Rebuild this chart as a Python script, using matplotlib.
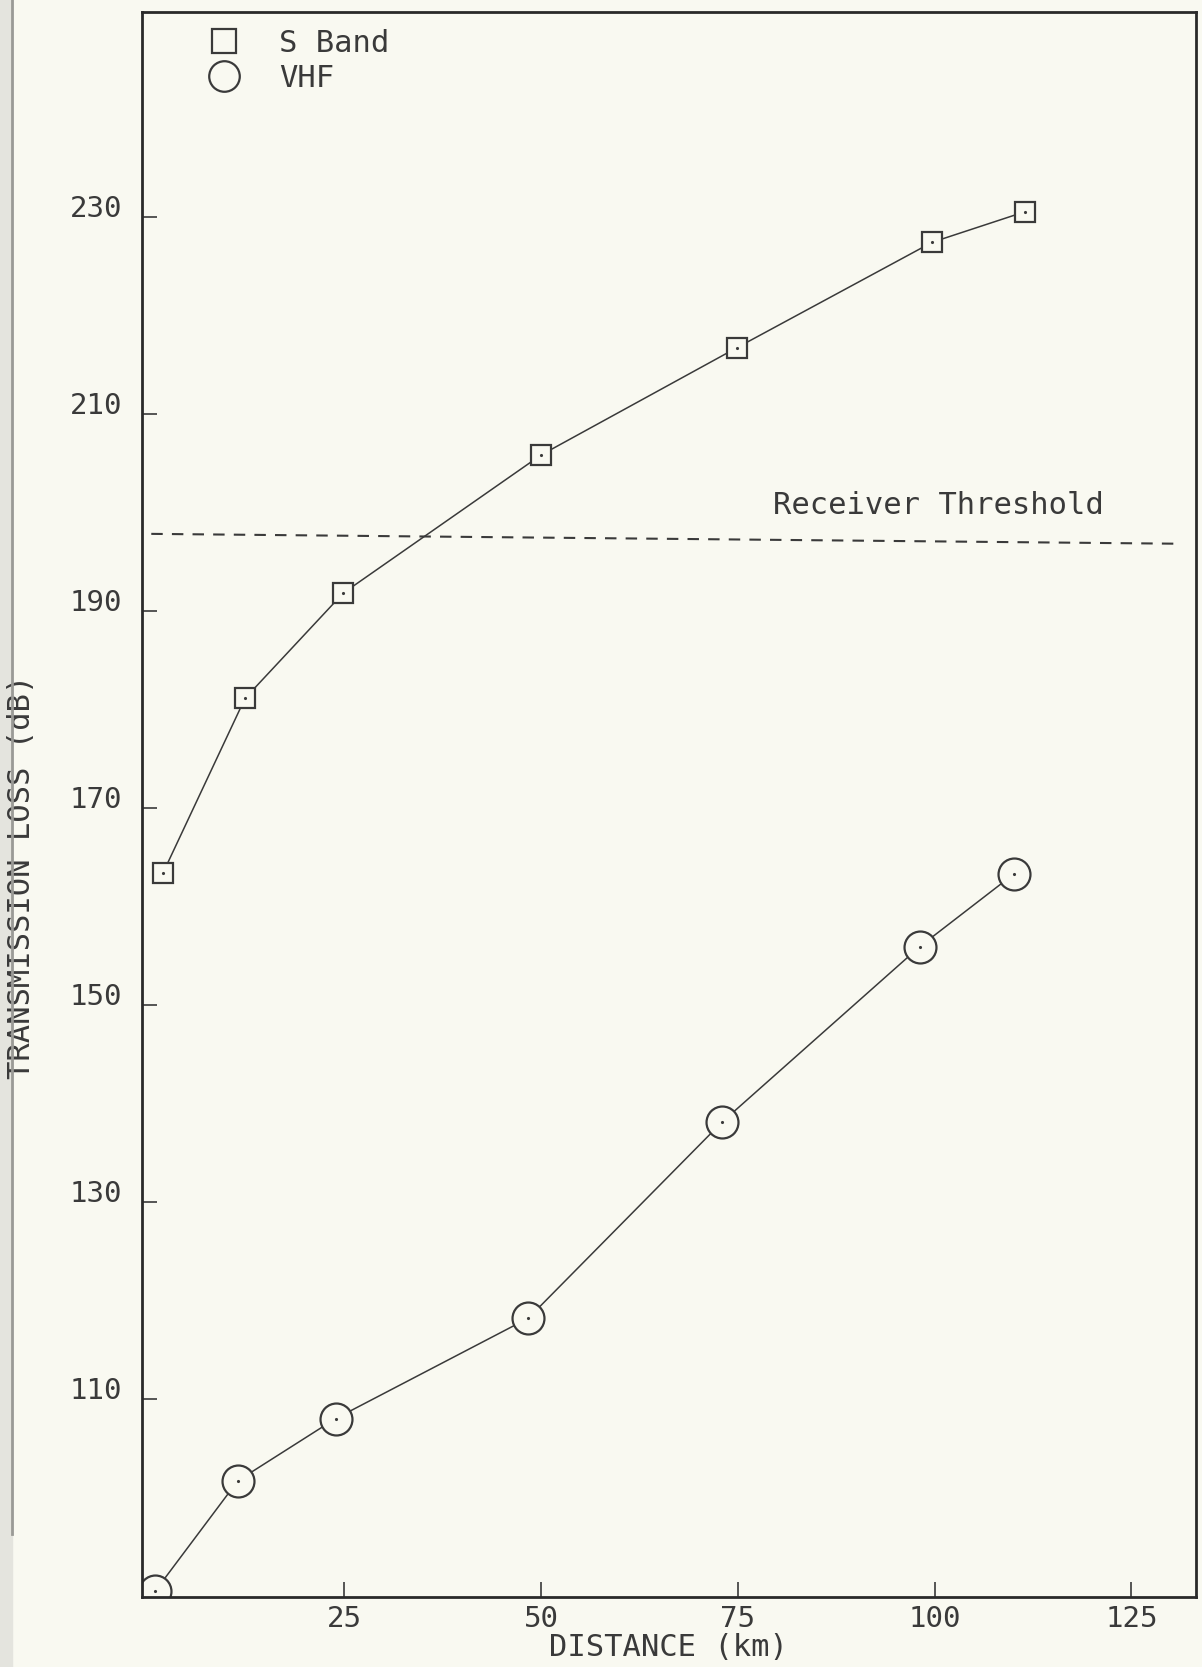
import numpy as np
import matplotlib
matplotlib.use("Agg")
from matplotlib import pyplot as plt

# data
sband_x = [2.0, 12.4, 24.9, 50.0, 74.9, 99.7, 111.5]
sband_y = [163.4, 181.1, 191.8, 205.8, 216.7, 227.4, 230.5]
vhf_x = [1.0, 11.5, 23.9, 48.4, 73.0, 98.1, 110.1]
vhf_y = [90.5, 101.7, 108.0, 118.2, 138.1, 155.9, 163.3]
thresh_x = [0.5, 131.0]
thresh_y = [197.8, 196.8]
xticks = [25, 50, 75, 100, 125]
yticks = [110, 130, 150, 170, 190, 210, 230]

bg = '#f9f9f1'
ink = '#3a3a3a'
plt.rcParams['font.family'] = ['DejaVu Sans Mono', 'DejaVu Sans']

fig = plt.figure(figsize=(12.02, 16.67), dpi=100, facecolor=bg)
ax = fig.add_axes([0.118, 0.042, 0.877, 0.951], facecolor=bg)

# page edge on the left
fig.add_artist(plt.Line2D([0.010, 0.010], [0.08, 1.0], color='#9a9a96', lw=2))
fig.patches.append(plt.Rectangle((0, 0), 0.010, 1, transform=fig.transFigure,
                                 color='#e4e4de', zorder=-1))

ax.plot(thresh_x, thresh_y, color=ink, lw=1.5, dashes=(5.5, 4.4))
ax.plot(sband_x, sband_y, color=ink, lw=1.1, marker='s', ms=15,
        mfc=bg, mec=ink, mew=1.6, label='S Band')
ax.plot(vhf_x, vhf_y, color=ink, lw=1.1, marker='o', ms=23,
        mfc=bg, mec=ink, mew=1.6, label='VHF')
ax.plot(sband_x, sband_y, ls='none', marker='.', ms=2.5, color=ink)
ax.plot(vhf_x, vhf_y, ls='none', marker='.', ms=2.5, color=ink)

ax.text(79.5, 199.8, 'Receiver Threshold', fontsize=22, color=ink)

ax.set_xlim(-0.7, 133.2)
ax.set_ylim(89.9, 250.8)
ax.set_xticks(xticks)
ax.set_yticks(yticks)
ax.tick_params(direction='in', length=11, width=1.2, colors=ink,
               labelsize=21, labelcolor=ink)
ax.tick_params(axis='x', pad=6)
ax.tick_params(axis='y', pad=14)
for lab in ax.get_yticklabels():
    lab.set_verticalalignment('baseline')
for s in ax.spines.values():
    s.set_linewidth(2)
    s.set_color('#2a2a2a')

ax.set_xlabel('DISTANCE (km)', fontsize=22, color=ink, labelpad=0)
ax.set_ylabel('TRANSMISSION LOSS (dB)', fontsize=22, color=ink)
ax.yaxis.set_label_coords(-0.100, 0.454)

leg = ax.legend(loc='upper left', bbox_to_anchor=(0.052, 0.997), frameon=False,
                fontsize=22, handlelength=1.0, handletextpad=1.3,
                labelspacing=0.2, borderaxespad=0, labelcolor=ink)
for h in leg.legend_handles:
    h.set_linestyle('none')
leg.legend_handles[0].set_markersize(17)
leg.legend_handles[1].set_markersize(22)

fig.savefig('out.png', dpi=100, facecolor=bg)
